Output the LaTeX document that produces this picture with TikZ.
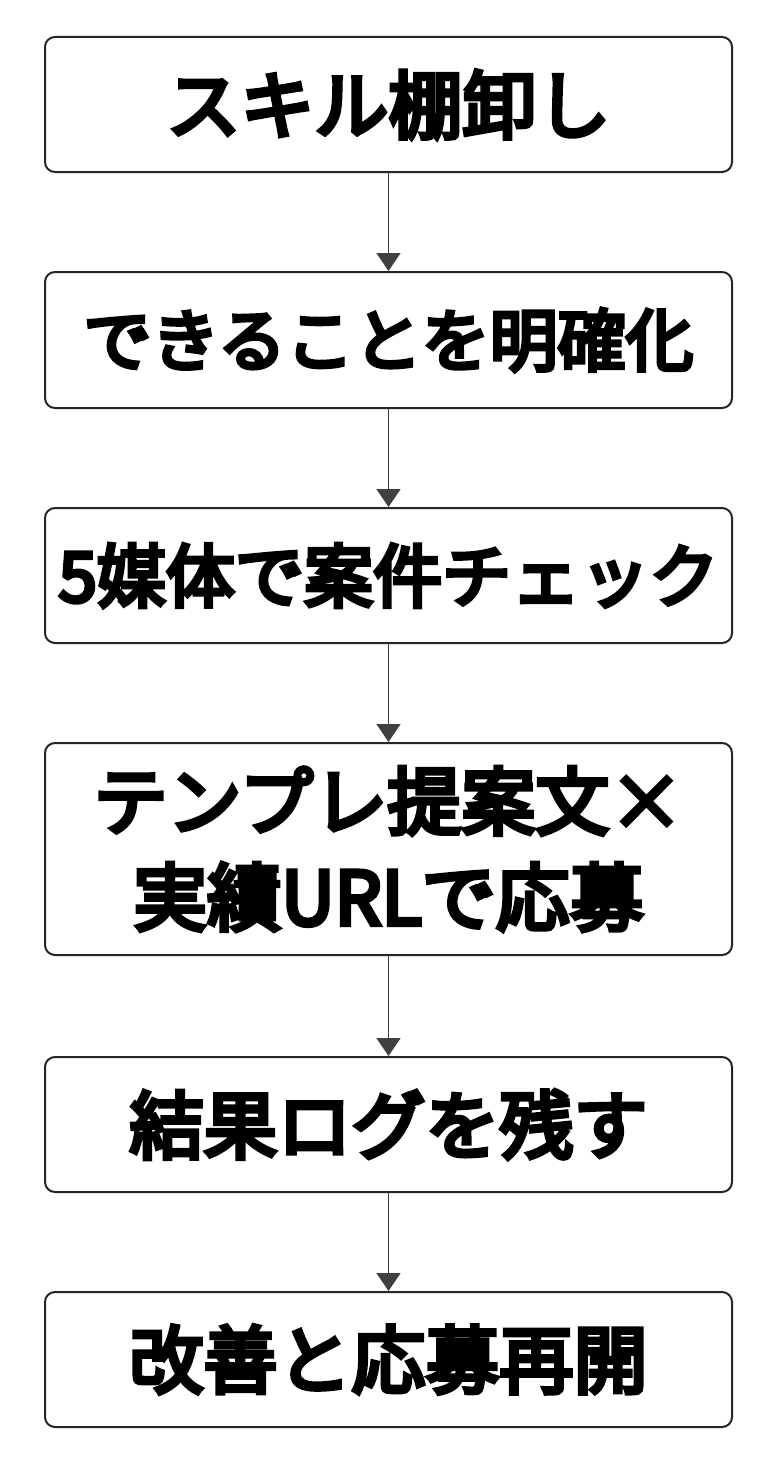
\documentclass[tikz,border=0pt]{standalone}
\usepackage{fontspec}
\newfontfamily\cjk{Noto Sans CJK JP}[FakeBold=6]
\usetikzlibrary{arrows.meta}
\begin{document}
\begin{tikzpicture}[x=1pt,y=-1pt,
  stepbox/.style={draw=black!85,line width=2pt,rounded corners=10pt,fill=white,minimum width=687pt,align=center,inner sep=0pt,font=\cjk\fontsize{74}{96}\selectfont},
  conn/.style={draw=black!75,line width=1.6pt,-{Triangle[length=18pt,width=24pt]}}]
\useasboundingbox (0,0) rectangle (769,1480);
\node[stepbox,minimum height=135pt] (a) at (388.5,104.5) {スキル棚卸し};
\node[stepbox,minimum height=136pt] (b) at (388.5,340) {\resizebox{610pt}{!}{できることを明確化}};
\node[stepbox,minimum height=135pt] (c) at (388.5,575.5) {\resizebox{660pt}{!}{5媒体で案件チェック}};
\node[stepbox,minimum height=212pt] (d) at (388.5,849) {テンプレ提案文×\\実績URLで応募};
\node[stepbox,minimum height=135pt] (e) at (388.5,1124.5) {結果ログを残す};
\node[stepbox,minimum height=135pt] (f) at (388.5,1359.5) {改善と応募再開};
\draw[conn] (a) -- (b);
\draw[conn] (b) -- (c);
\draw[conn] (c) -- (d);
\draw[conn] (d) -- (e);
\draw[conn] (e) -- (f);
\end{tikzpicture}
\end{document}
